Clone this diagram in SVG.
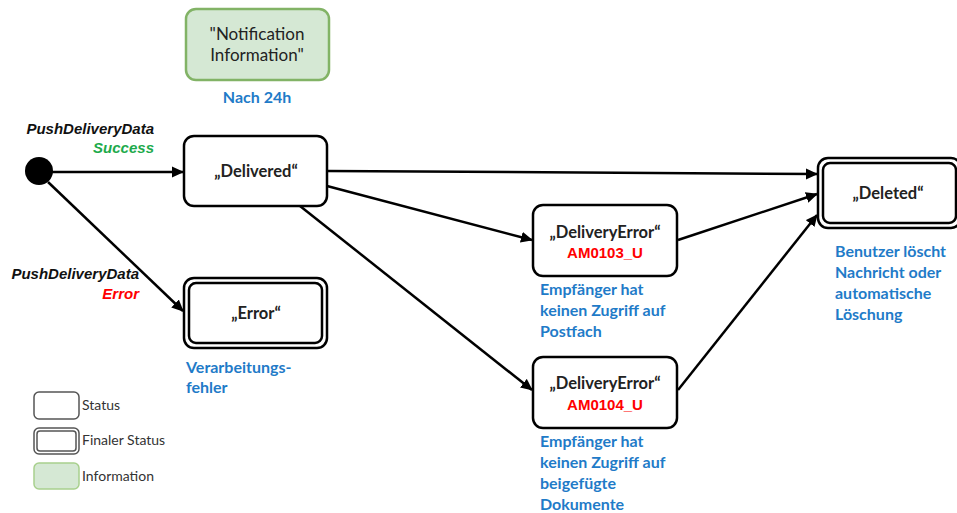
<svg xmlns="http://www.w3.org/2000/svg" width="957" height="513" viewBox="0 0 957 513">
<defs>
<marker id="arr" markerWidth="12" markerHeight="12" refX="11" refY="6" orient="auto" markerUnits="userSpaceOnUse">
<path d="M0,0.5 L12,6 L0,11.5 Z" fill="#000"/>
</marker>
<style>
.st{fill:#fff;stroke:#000;stroke-width:2.5}
.fin{fill:#fff;stroke:#000;stroke-width:2.5}
.info{fill:#d5e8d4;stroke:#82b366;stroke-width:2.5}
.nt{font-family:Lato,"Open Sans",sans-serif;font-weight:bold;font-size:16.5px;fill:#222;text-anchor:middle}
.code{font-family:"Liberation Sans",Arial,sans-serif;font-weight:bold;font-size:15px;fill:#f00;text-anchor:middle}
.bl{font-family:Lato,"Open Sans",sans-serif;font-weight:bold;font-size:16px;fill:#1f7bc8}
.ev{font-family:"Liberation Sans",Arial,sans-serif;font-weight:bold;font-style:italic;font-size:15px;text-anchor:end}
.lg{font-family:Lato,"Open Sans",sans-serif;font-size:14px;fill:#333}
.cn{stroke:#000;stroke-width:2.5;fill:none;marker-end:url(#arr)}
</style>
</defs>
<rect width="957" height="513" fill="#fff"/>

<g id="connectors">
<line class="cn" x1="52" y1="172" x2="183" y2="172"/>
<line class="cn" x1="48" y1="182" x2="183" y2="311"/>
<line class="cn" x1="327" y1="171" x2="817" y2="174"/>
<line class="cn" x1="327" y1="186" x2="532" y2="240"/>
<line class="cn" x1="300" y1="206" x2="532" y2="390"/>
<line class="cn" x1="678" y1="240" x2="817" y2="194"/>
<line class="cn" x1="678" y1="390" x2="817" y2="215"/>
</g>

<g id="start">
<circle cx="39" cy="171" r="14" fill="#000"/>
<text class="ev" x="154" y="134" fill="#111">PushDeliveryData</text>
<text class="ev" x="154" y="153" fill="#1daa4b">Success</text>
<text class="ev" x="139" y="279" fill="#111">PushDeliveryData</text>
<text class="ev" x="139" y="299" fill="#f00">Error</text>
</g>

<g id="notification">
<rect class="info" x="186" y="9" width="143" height="71" rx="10"/>
<text x="257" y="40" font-family="Lato,'Open Sans',sans-serif" font-size="17" fill="#222" text-anchor="middle">"Notification</text>
<text x="257" y="61" font-family="Lato,'Open Sans',sans-serif" font-size="17" fill="#222" text-anchor="middle">Information"</text>
<text class="bl" x="257" y="103" text-anchor="middle">Nach 24h</text>
</g>

<g id="delivered">
<rect class="st" x="184" y="136" width="143" height="70" rx="10"/>
<text class="nt" x="256" y="177">„Delivered“</text>
</g>

<g id="error">
<rect class="fin" x="184" y="278" width="143" height="70" rx="10"/>
<rect class="fin" x="189" y="283" width="133" height="60" rx="7"/>
<text class="nt" x="256" y="319">„Error“</text>
<text class="bl" x="186" y="373">Verarbeitungs-</text>
<text class="bl" x="186" y="393">fehler</text>
</g>

<g id="deliveryerror1">
<rect class="st" x="533" y="205" width="144" height="71" rx="10"/>
<text class="nt" x="605" y="238">„DeliveryError“</text>
<text class="code" x="605" y="258">AM0103_U</text>
<text class="bl" x="540" y="295">Empfänger hat</text>
<text class="bl" x="540" y="316">keinen Zugriff auf</text>
<text class="bl" x="540" y="337">Postfach</text>
</g>

<g id="deliveryerror2">
<rect class="st" x="533" y="357" width="144" height="71" rx="10"/>
<text class="nt" x="605" y="389">„DeliveryError“</text>
<text class="code" x="605" y="410">AM0104_U</text>
<text class="bl" x="540" y="447">Empfänger hat</text>
<text class="bl" x="540" y="468">keinen Zugriff auf</text>
<text class="bl" x="540" y="489">beigefügte</text>
<text class="bl" x="540" y="510">Dokumente</text>
</g>

<g id="deleted">
<rect class="fin" x="818" y="158" width="143" height="70" rx="10"/>
<rect class="fin" x="823" y="163" width="133" height="60" rx="7"/>
<text class="nt" x="888" y="199">„Deleted“</text>
<text class="bl" x="835" y="257">Benutzer löscht</text>
<text class="bl" x="835" y="278">Nachricht oder</text>
<text class="bl" x="835" y="299">automatische</text>
<text class="bl" x="835" y="320">Löschung</text>
</g>

<g id="legend">
<rect x="34" y="392" width="45" height="27" rx="5" fill="#fff" stroke="#555" stroke-width="1.5"/>
<text class="lg" x="82" y="410">Status</text>
<rect x="34" y="428" width="45" height="26" rx="5" fill="#fff" stroke="#555" stroke-width="1.5"/>
<rect x="37" y="431" width="39" height="20" rx="3" fill="#fff" stroke="#555" stroke-width="1.5"/>
<text class="lg" x="82" y="445">Finaler Status</text>
<rect x="34" y="463" width="45" height="26" rx="5" fill="#d5e8d4" stroke="#a8d08d" stroke-width="1.5"/>
<text class="lg" x="82" y="481">Information</text>
</g>
</svg>
